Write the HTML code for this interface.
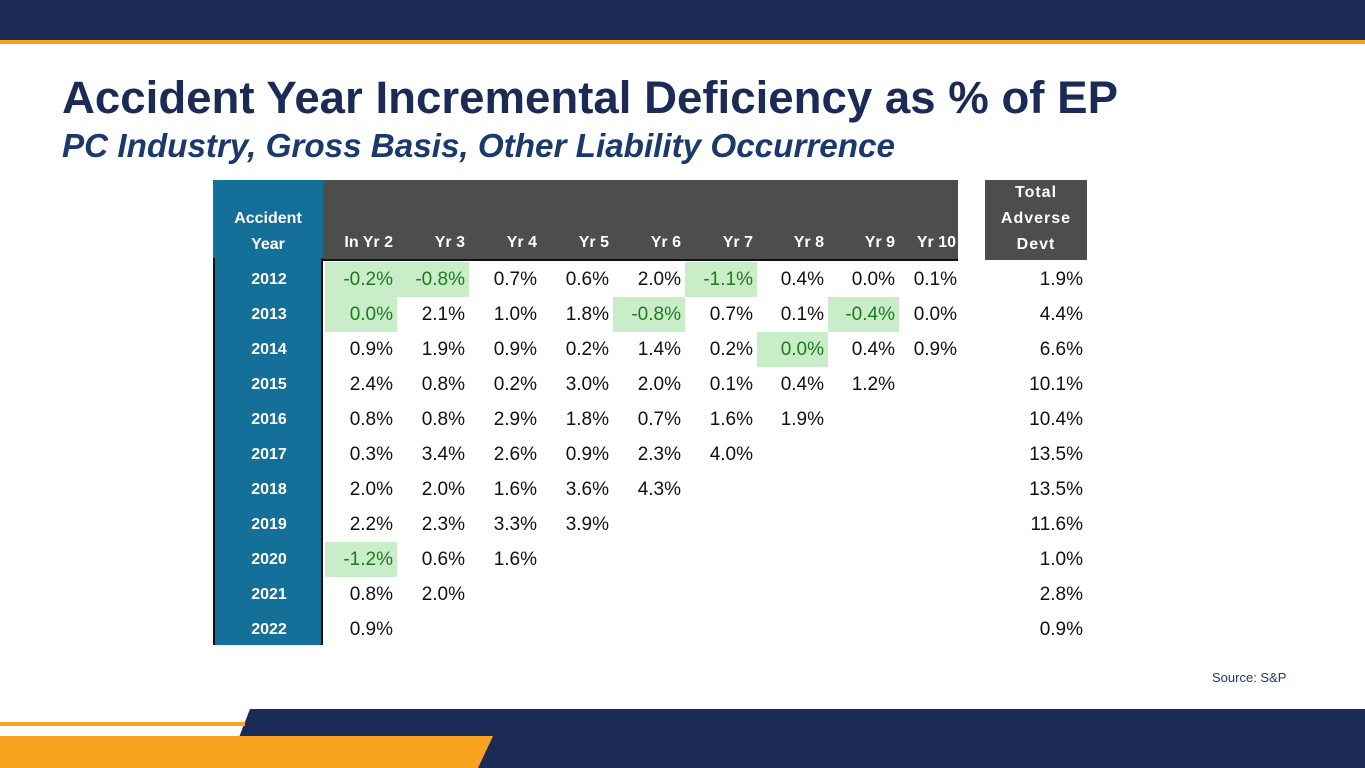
<!DOCTYPE html>
<html><head><meta charset="utf-8"><style>
body{margin:0;width:1365px;height:768px;position:relative;overflow:hidden;background:#fff;font-family:"Liberation Sans",Arial,sans-serif}
.a{position:absolute}
.cell{position:absolute;height:35px;line-height:35px;text-align:right;font-size:19px;color:#111;box-sizing:border-box;padding-right:4px}
.neg{background:#c8edc8;color:#1f7a1f}
.yr{position:absolute;left:215px;width:108px;height:35px;line-height:35px;text-align:center;color:#fff;font-weight:bold;font-size:16px}
.hd{position:absolute;color:#fff;font-weight:bold;font-size:16px;text-align:right;top:232px;line-height:22px}
</style></head><body>
<div class="a" style="left:0;top:0;width:1365px;height:40px;background:#1b2b55"></div>
<div class="a" style="left:0;top:40px;width:1365px;height:4px;background:#f8a31e"></div>
<svg class="a" style="left:0;top:60px" width="1365" height="110">
<text x="62" y="53" textLength="1056" lengthAdjust="spacingAndGlyphs" font-family="Liberation Sans" font-weight="bold" font-size="45" fill="#1b2b55">Accident Year Incremental Deficiency as % of EP</text>
<text x="62" y="97" textLength="833" lengthAdjust="spacingAndGlyphs" font-family="Liberation Sans" font-weight="bold" font-style="italic" font-size="33" fill="#1b3a6b">PC Industry, Gross Basis, Other Liability Occurrence</text>
</svg>
<div class="a" style="left:213px;top:180px;width:110px;height:80px;background:#146f99"></div>
<div class="a" style="left:323px;top:180px;width:635px;height:80px;background:#4d4d4d"></div>
<div class="a" style="left:985px;top:180px;width:102px;height:80px;background:#4d4d4d"></div>
<div class="a" style="left:213px;top:258px;width:110px;height:387px;background:#146f99;border-left:2px solid #111;border-right:2px solid #111;box-sizing:border-box"></div>
<div class="a" style="left:323px;top:259px;width:635px;height:2px;background:#111"></div>
<div class="a" style="left:213px;top:206px;width:110px;text-align:center;color:#fff;font-weight:bold;font-size:16px;line-height:26px">Accident<br>Year</div>
<div class="a" style="left:985px;top:180px;width:102px;text-align:center;color:#fff;font-weight:bold;font-size:16px;line-height:26px;letter-spacing:1px">Total<br>Adverse<br>Devt</div>
<div id="tbl"></div>
<div class="a" style="left:1212px;top:670px;font-size:13px;color:#1b3a6b">Source: S&amp;P</div>
<svg class="a" style="left:0;top:700px" width="1365" height="68">
<polygon points="250,9 1365,9 1365,68 227,68" fill="#1b2b55"/>
<rect x="0" y="22" width="245" height="4" fill="#f8a31e"/>
<polygon points="0,36 493,36 478,68 0,68" fill="#f8a31e"/>
</svg>
<script>
const years=["2012","2013","2014","2015","2016","2017","2018","2019","2020","2021","2022"];
const colLabels=["In Yr 2","Yr 3","Yr 4","Yr 5","Yr 6","Yr 7","Yr 8","Yr 9","Yr 10"];
const r2012=[-0.2,-0.8,0.7,0.6,2.0,-1.1,0.4,0.0,0.1];
const r2013=[0.0,2.1,1.0,1.8,-0.8,0.7,0.1,-0.4,0.0];
const r2014=[0.9,1.9,0.9,0.2,1.4,0.2,0.0,0.4,0.9];
const r2015=[2.4,0.8,0.2,3.0,2.0,0.1,0.4,1.2];
const r2016=[0.8,0.8,2.9,1.8,0.7,1.6,1.9];
const r2017=[0.3,3.4,2.6,0.9,2.3,4.0];
const r2018=[2.0,2.0,1.6,3.6,4.3];
const r2019=[2.2,2.3,3.3,3.9];
const r2020=[-1.2,0.6,1.6];
const r2021=[0.8,2.0];
const r2022=[0.9];
const totals=[1.9,4.4,6.6,10.1,10.4,13.5,13.5,11.6,1.0,2.8,0.9];
const highlighted=[[0,1,5],[0,4,7],[6],[],[],[],[],[],[0],[],[]];
const rows=[r2012,r2013,r2014,r2015,r2016,r2017,r2018,r2019,r2020,r2021,r2022];
const edges=[325,397,469,541,613,685,757,828,899,960];
const rowY=i=>262+35*i;
const t=document.getElementById('tbl');
colLabels.forEach((c,j)=>{
  const d=document.createElement('div');d.className='hd';
  d.style.left=edges[j]+'px';d.style.width=(edges[j+1]-edges[j]-4)+'px';d.textContent=c;
  
  
  t.appendChild(d);
});
years.forEach((y,i)=>{
  const d=document.createElement('div');d.className='yr';d.style.top=rowY(i)+'px';d.textContent=y;
  
  
  t.appendChild(d);
  rows[i].forEach((v,j)=>{
    const c=document.createElement('div');
    c.className='cell'+(highlighted[i].includes(j)?' neg':'');
    c.style.left=edges[j]+'px';c.style.width=(edges[j+1]-edges[j])+'px';c.style.top=rowY(i)+'px';
    if(j==8)c.style.width='62px';
    c.textContent=v.toFixed(1)+'%';
    
    
    t.appendChild(c);
  });
  const tc=document.createElement('div');tc.className='cell';
  tc.style.left='985px';tc.style.width='102px';tc.style.top=rowY(i)+'px';
  tc.textContent=totals[i].toFixed(1)+'%';
  
  
  t.appendChild(tc);
});
</script>
</body></html>
